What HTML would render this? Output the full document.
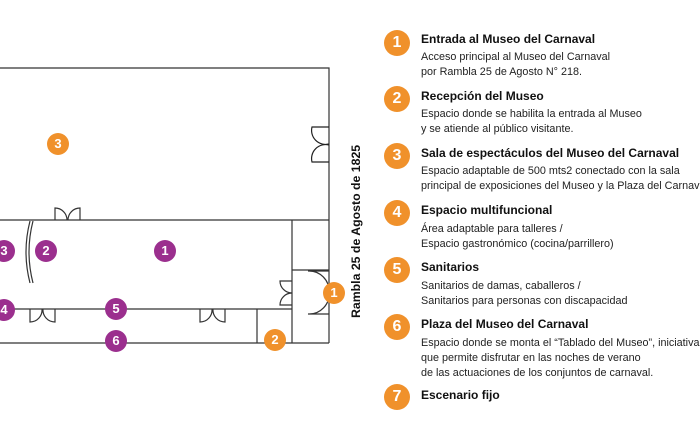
<!DOCTYPE html>
<html><head><meta charset="utf-8"><style>
body{margin:0;width:700px;height:441px;background:#fff;overflow:hidden;position:relative;font-family:"Liberation Sans",sans-serif}
.c{position:absolute;width:22px;height:22px;border-radius:50%;color:#fff;font-weight:bold;font-size:13px;text-align:center;line-height:22px}
.o{background:#F0912B}.p{background:#9B2F8E}
.L{position:absolute;left:384px;width:26px;height:26px;line-height:26px;font-size:16px}
.t{position:absolute;left:421px;font-size:12px;font-weight:bold;color:#111;white-space:nowrap}
.d{position:absolute;left:421px;font-size:10.8px;line-height:15px;color:#222;white-space:nowrap}
</style></head><body>
<svg width="700" height="441" style="position:absolute;left:0;top:0" fill="none" stroke="#333" stroke-width="1.2">
<path d="M0 68H329V343M0 220H329M292 220V343M0 309H292M292 270H329M257 309V343M0 343H329"/>
<path d="M329 127H312A14 14 0 0 0 329 144M329 162H312A14 14 0 0 1 329 145" stroke="#222"/>
<path d="M55 220V208A12 12 0 0 1 67 220M80 220V208A12 12 0 0 0 68 220"/>
<path d="M30 221Q22 252 30 283M33 221Q25 252 33 283"/>
<path d="M292 281H280A12 12 0 0 0 292 293M292 305H280A12 12 0 0 1 292 293"/>
<path d="M329 271H308A20 20 0 0 1 329 292M329 314H308A20 20 0 0 0 329 292"/>
<path d="M30 309V322A12 12 0 0 0 42 309M55 309V322A12 12 0 0 1 43 309M200 309V322A12 12 0 0 0 212 309M225 309V322A12 12 0 0 1 213 309"/>
<text x="0" y="0" transform="translate(360 318) rotate(-90)" fill="#111" stroke="none" font-family="Liberation Sans" font-weight="bold" font-size="12.3">Rambla 25 de Agosto de 1825</text>
</svg>
<div class="c o" style="left:47px;top:133px">3</div>
<div class="c p" style="left:-7px;top:240px">3</div>
<div class="c p" style="left:35px;top:240px">2</div>
<div class="c p" style="left:154px;top:240px">1</div>
<div class="c p" style="left:-7px;top:299px">4</div>
<div class="c p" style="left:105px;top:298px">5</div>
<div class="c p" style="left:105px;top:330px">6</div>
<div class="c o" style="left:323px;top:282px">1</div>
<div class="c o" style="left:264px;top:329px">2</div>

<div class="c o L" style="top:30px">1</div>
<div class="t" style="top:32px">Entrada al Museo del Carnaval</div>
<div class="d" style="top:50px">Acceso principal al Museo del Carnaval<br>por Rambla 25 de Agosto N° 218.</div>
<div class="c o L" style="top:86px">2</div>
<div class="t" style="top:89px">Recepción del Museo</div>
<div class="d" style="top:107px">Espacio donde se habilita la entrada al Museo<br>y se atiende al público visitante.</div>
<div class="c o L" style="top:143px">3</div>
<div class="t" style="top:146px">Sala de espectáculos del Museo del Carnaval</div>
<div class="d" style="top:164px">Espacio adaptable de 500 mts2 conectado con la sala<br>principal de exposiciones del Museo y la Plaza del Carnaval</div>
<div class="c o L" style="top:200px">4</div>
<div class="t" style="top:203px">Espacio multifuncional</div>
<div class="d" style="top:222px">Área adaptable para talleres /<br>Espacio gastronómico (cocina/parrillero)</div>
<div class="c o L" style="top:257px">5</div>
<div class="t" style="top:260px">Sanitarios</div>
<div class="d" style="top:279px">Sanitarios de damas, caballeros /<br>Sanitarios para personas con discapacidad</div>
<div class="c o L" style="top:314px">6</div>
<div class="t" style="top:317px">Plaza del Museo del Carnaval</div>
<div class="d" style="top:336px">Espacio donde se monta el “Tablado del Museo”, iniciativa<br>que permite disfrutar en las noches de verano<br>de las actuaciones de los conjuntos de carnaval.</div>
<div class="c o L" style="top:384px">7</div>
<div class="t" style="top:388px">Escenario fijo</div>
</body></html>
